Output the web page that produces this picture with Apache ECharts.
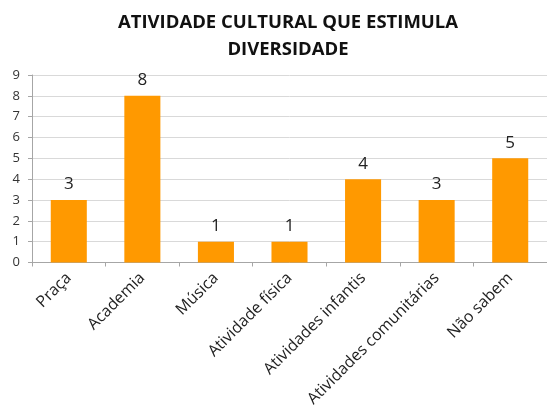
<!DOCTYPE html>
<html><head><meta charset="utf-8">
<script src="https://cdn.jsdelivr.net/npm/echarts@6/dist/echarts.min.js"></script>
<style>html,body{margin:0;padding:0;background:#fff}#c{width:547px;height:416px}</style>
</head><body><div id="c"></div>
<script>
const categories = ["Praça","Academia","Música","Atividade física","Atividades infantis","Atividades comunitárias","Não sabem"];
const values = [3,8,1,1,4,3,5];
const yTicks = {min:0,max:9,interval:1};
const chart = echarts.init(document.getElementById('c'));
chart.setOption({
  backgroundColor:'#fff',
  animation:false,
  title:{text:'ATIVIDADE CULTURAL QUE ESTIMULA\nDIVERSIDADE',left:283,textAlign:'center',top:4,
    textStyle:{fontFamily:'Open Sans',fontWeight:'bold',fontSize:18.5,lineHeight:27,color:'#111'}},
  grid:{left:32,width:519,top:75,bottom:153.5},
  xAxis:{type:'category',data:categories,
    axisLine:{lineStyle:{color:'#a6a6a6'}},
    axisTick:{show:true,alignWithLabel:false,length:4,lineStyle:{color:'#a6a6a6'}},
    axisLabel:{rotate:45,interval:0,fontFamily:'Open Sans',fontSize:16,color:'#222',margin:13}},
  yAxis:{type:'value',min:yTicks.min,max:yTicks.max,interval:yTicks.interval,
    axisLine:{show:true,lineStyle:{color:'#a6a6a6'}},
    axisTick:{show:true,length:4,lineStyle:{color:'#a6a6a6'}},
    splitLine:{lineStyle:{color:'#d9d9d9'}},
    axisLabel:{fontFamily:'Open Sans',fontSize:13,color:'#333',margin:12}},
  series:[{type:'bar',data:values,barCategoryGap:'51%',
    itemStyle:{color:'#FF9900'},
    label:{show:true,position:'top',distance:7,fontFamily:'Open Sans',fontSize:17,color:'#222'}}]
});
</script></body></html>
